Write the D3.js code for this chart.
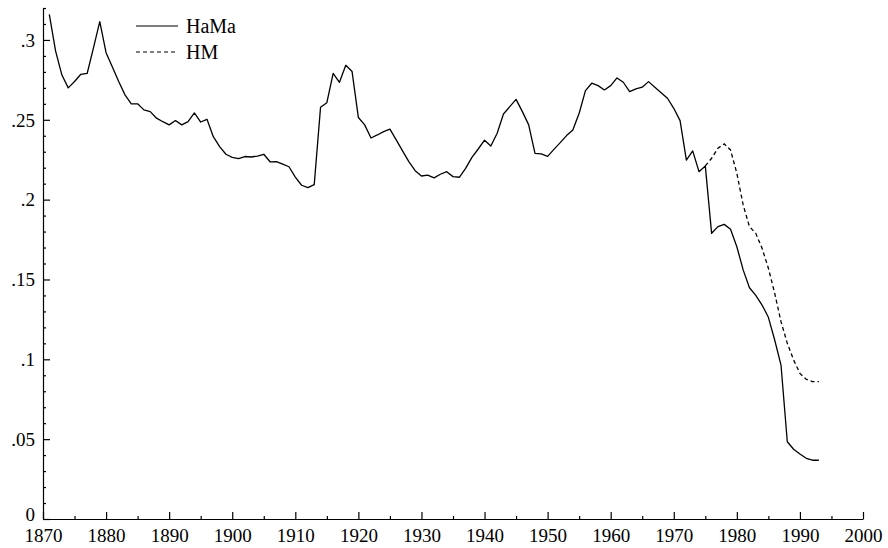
<!DOCTYPE html>
<html>
<head>
<meta charset="utf-8">
<script src="https://cdn.jsdelivr.net/npm/d3@7"></script>
<style>
  body { margin: 0; background: #fff; }
</style>
</head>
<body>
<svg id="chart" width="888" height="548" viewBox="0 0 888 548"></svg>
<script>
// years 1871..1993
const hamaStart = 1871;
const hamaValues = [
  .316, .293, .278, .270, .274, .2785, .279, .295, .3115, .292,
  .283, .274, .2656, .260, .260, .2562, .2551, .251, .2488, .2468,
  .2495, .2468, .2488, .2543, .2486, .2503, .2394, .2332, .2284, .2265,
  .2257, .227, .2267, .2273, .2284, .2237, .2238, .2222, .2206, .2141,
  .209, .2075, .2094, .2578, .2607, .2791, .2735, .2841, .2802, .2514,
  .2468, .2386, .2405, .2426, .2441, .2374, .2305, .2238, .2181, .2148,
  .2153, .2136, .2159, .2175, .2144, .214, .2196, .2265, .2317, .2372,
  .2336, .2416, .2536, .2582, .2628, .2551, .2468, .229, .2286, .2271,
  .2315, .2357, .2401, .2436, .2541, .2683, .2729, .2714, .2687, .2714,
  .2762, .2735, .2676, .2693, .2704, .2739, .2704, .267, .2635, .2572,
  .2495, .2248, .2305, .2175, .2211, .1789, .1831, .1845, .1814, .1705,
  .156, .1448, .140, .134, .1263, .1121, .0964, .0484, .0437, .0407,
  .038, .0368, .0368
];
// years 1975..1993
const hmStart = 1975;
const hmValues = [
  .2211, .2259, .2322, .2349, .2311, .2165, .1967, .1831, .1789, .1695,
  .157, .1414, .1236, .110, .0996, .0912, .0875, .086, .086
];

const xTicks = [1870, 1880, 1890, 1900, 1910, 1920, 1930, 1940, 1950, 1960, 1970, 1980, 1990, 2000];
const yTicks = [0, .05, .1, .15, .2, .25, .3];
const yTickLabels = ["0", ".05", ".1", ".15", ".2", ".25", ".3"];
const legendNames = ["HaMa", "HM"];

const serif = "'Liberation Serif', 'DejaVu Serif', serif";

let svg = d3.select("#chart");

let x = d3.scaleLinear([1870, 2000], [43, 863]);
let y = d3.scaleLinear([0, 0.32], [519, 8]);

let hama = hamaValues.map((v, i) => [hamaStart + i, v]);
let hm = hmValues.map((v, i) => [hmStart + i, v]);

// minor ticks first, then main axes on top
svg.append("g")
    .attr("transform", "translate(0,519)")
    .call(d3.axisBottom(x).tickValues(d3.range(1875, 2000, 10)).tickSize(-3).tickFormat(""))
    .call(g => g.select(".domain").remove());

svg.append("g")
    .attr("transform", "translate(43,0)")
    .call(d3.axisLeft(y).tickValues(d3.range(1, 33).filter(d => d % 5 != 0).map(d => d / 100)).tickSize(-3).tickFormat(""))
    .call(g => g.select(".domain").remove());

let xAxis = svg.append("g")
    .attr("transform", "translate(0,519)")
    .call(d3.axisBottom(x).tickValues(xTicks).tickSize(-7).tickSizeOuter(0).tickPadding(10).tickFormat(d => d));

let yAxis = svg.append("g")
    .attr("transform", "translate(43,0)")
    .call(d3.axisLeft(y).tickValues(yTicks).tickSize(-7).tickSizeOuter(0).tickPadding(8)
        .tickFormat((d, i) => yTickLabels[i]));

svg.selectAll("g").attr("font-family", serif).attr("font-size", 19);
svg.selectAll(".tick line, .domain").attr("stroke", "#000").attr("stroke-width", 1.2);
svg.selectAll(".tick text").attr("fill", "#000").attr("font-family", serif).attr("font-size", 19);
yAxis.selectAll(".tick text").attr("dy", d => d == 0 ? "0.1em" : "0.33em");

let line = d3.line().x(d => x(d[0])).y(d => y(d[1]));

svg.append("path")
    .datum(hama)
    .attr("d", line)
    .attr("fill", "none")
    .attr("stroke", "#000")
    .attr("stroke-width", 1.3)
    .attr("stroke-linejoin", "round");

svg.append("path")
    .datum(hm)
    .attr("d", line)
    .attr("fill", "none")
    .attr("stroke", "#000")
    .attr("stroke-width", 1.3)
    .attr("stroke-dasharray", "4,3");

// legend
let legend = svg.append("g");
legendNames.forEach((name, i) => {
    let ly = 26 + i * 26;
    legend.append("line")
        .attr("x1", 136).attr("x2", 178)
        .attr("y1", ly).attr("y2", ly)
        .attr("stroke", "#000")
        .attr("stroke-width", 1.2)
        .attr("stroke-dasharray", i == 1 ? "4,3" : null);
    legend.append("text")
        .attr("x", 186).attr("y", ly + 7)
        .attr("font-family", serif)
        .attr("font-size", 20)
        .text(name);
});
</script>
</body>
</html>
